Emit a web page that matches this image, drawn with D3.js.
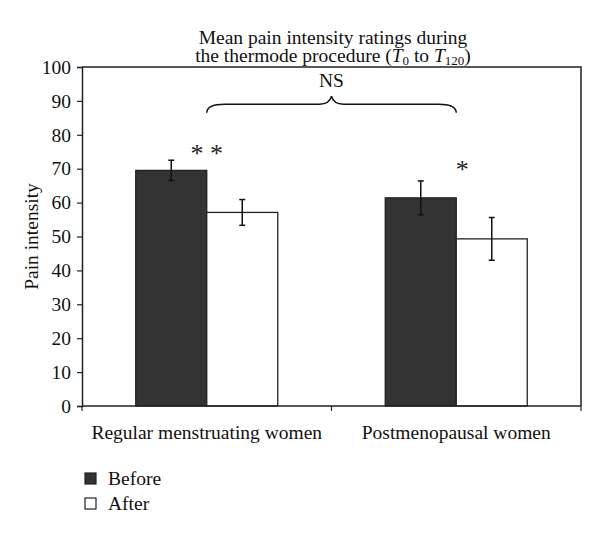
<!DOCTYPE html>
<html lang="en">
<head>
<meta charset="UTF-8">
<title>Mean pain intensity ratings</title>
<script src="https://d3js.org/d3.v7.min.js"></script>
<style>
  body { margin: 0; background: #fff; }
  svg { font-family: "Liberation Serif", "DejaVu Serif", serif; }
</style>
</head>
<body>
<div id="container"></div>
<script>
// data
const groups = ["Regular menstruating women", "Postmenopausal women"];
const series = ["Before", "After"];
const before = [69.5, 61.4];
const after = [57.1, 49.3];
const beforeErr = [3.0, 5.0];
const afterErr = [3.8, 6.3];
const yTicks = [0, 10, 20, 30, 40, 50, 60, 70, 80, 90, 100];
const stars = ["* *", "*"];

const width = 600, height = 536;
const margin = { top: 67, right: 19, bottom: 130, left: 82 };
const colors = { Before: "#333333", After: "#ffffff" };
const fs = 19.5;

const svg = d3.select("#container").append("svg")
  .attr("width", width)
  .attr("height", height);

const x0 = d3.scaleBand()
  .domain(groups)
  .range([margin.left, width - margin.right])
  .paddingInner(0)
  .paddingOuter(0);

const x1 = d3.scaleBand()
  .domain(series)
  .range([0, x0.bandwidth()])
  .paddingInner(0)
  .paddingOuter(0.757);

const y = d3.scaleLinear()
  .domain([0, 100])
  .range([height - margin.bottom, margin.top]);

const rows = groups.map((g, i) => ({
  group: g,
  values: [
    { key: "Before", value: before[i], err: beforeErr[i] },
    { key: "After", value: after[i], err: afterErr[i] }
  ]
}));

// title
const title = svg.append("text")
  .attr("x", 333)
  .attr("text-anchor", "middle")
  .attr("font-size", fs)
  .attr("fill", "#111");
title.append("tspan").attr("x", 333).attr("y", 44).text("Mean pain intensity ratings during");
const t2 = title.append("tspan").attr("x", 333).attr("y", 62);
t2.append("tspan").text("the thermode procedure (");
t2.append("tspan").attr("font-style", "italic").text("T");
t2.append("tspan").attr("font-size", 13).attr("dy", 2.5).text("0");
t2.append("tspan").attr("dy", -2.5).text(" to ");
t2.append("tspan").attr("font-style", "italic").text("T");
t2.append("tspan").attr("font-size", 13).attr("dy", 2.5).text("120");
t2.append("tspan").attr("dy", -2.5).text(")");

// y axis
const yAxis = svg.append("g")
  .attr("transform", `translate(${margin.left},0)`)
  .call(d3.axisLeft(y).tickValues(yTicks).tickSize(5).tickPadding(6));
yAxis.select(".domain").attr("stroke", "#222").attr("stroke-width", 1.5);
yAxis.selectAll(".tick line").attr("stroke", "#222").attr("stroke-width", 1.2);
yAxis.selectAll("text").attr("font-size", fs).attr("fill", "#111")
  .attr("font-family", "Liberation Serif, serif");

// top and right frame
svg.append("path")
  .attr("d", `M${margin.left},${y(100)}H${width - margin.right}V${y(0)}`)
  .attr("fill", "none")
  .attr("stroke", "#222")
  .attr("stroke-width", 1.5);

// bars
const g = svg.selectAll(".grp").data(rows).enter().append("g")
  .attr("class", "grp")
  .attr("transform", d => `translate(${x0(d.group)},0)`);

g.selectAll("rect").data(d => d.values).enter().append("rect")
  .attr("x", d => x1(d.key))
  .attr("y", d => y(d.value))
  .attr("width", x1.bandwidth())
  .attr("height", d => y(0) - y(d.value))
  .attr("fill", d => colors[d.key])
  .attr("stroke", "#222")
  .attr("stroke-width", 1.3);

// error bars
const eb = g.selectAll(".err").data(d => d.values).enter().append("g")
  .attr("class", "err")
  .attr("stroke", "#111")
  .attr("stroke-width", 1.5);
eb.append("line")
  .attr("x1", d => x1(d.key) + x1.bandwidth() / 2)
  .attr("x2", d => x1(d.key) + x1.bandwidth() / 2)
  .attr("y1", d => y(d.value + d.err))
  .attr("y2", d => y(d.value - d.err));
eb.append("line")
  .attr("x1", d => x1(d.key) + x1.bandwidth() / 2 - 3)
  .attr("x2", d => x1(d.key) + x1.bandwidth() / 2 + 3)
  .attr("y1", d => y(d.value + d.err))
  .attr("y2", d => y(d.value + d.err));
eb.append("line")
  .attr("x1", d => x1(d.key) + x1.bandwidth() / 2 - 3)
  .attr("x2", d => x1(d.key) + x1.bandwidth() / 2 + 3)
  .attr("y1", d => y(d.value - d.err))
  .attr("y2", d => y(d.value - d.err));

// x axis (boundary ticks)
const xAxis = svg.append("g")
  .attr("transform", `translate(0,${y(0)})`);
xAxis.append("line")
  .attr("x1", margin.left).attr("x2", width - margin.right)
  .attr("stroke", "#222").attr("stroke-width", 1.5);
const bounds = [margin.left].concat(groups.map(d => x0(d) + x0.bandwidth()));
xAxis.selectAll(".bt").data(bounds).enter().append("line")
  .attr("x1", d => d).attr("x2", d => d)
  .attr("y1", 0).attr("y2", 5)
  .attr("stroke", "#222").attr("stroke-width", 1.2);
xAxis.selectAll(".cl").data(groups).enter().append("text")
  .attr("x", d => x0(d) + x0.bandwidth() / 2)
  .attr("y", 33)
  .attr("text-anchor", "middle")
  .attr("font-size", fs)
  .attr("fill", "#111")
  .text(d => d);

// y label
svg.append("text")
  .attr("transform", `translate(38,${y(50)}) rotate(-90)`)
  .attr("text-anchor", "middle")
  .attr("font-size", fs)
  .attr("fill", "#111")
  .text("Pain intensity");

// significance stars
rows.forEach((r, i) => {
  const cx = i === 0
    ? x0(r.group) + x1("After")
    : x0(r.group) + x1("After") + 6;
  svg.append("text")
    .attr("x", cx)
    .attr("y", i === 0 ? 162 : 178)
    .attr("text-anchor", "middle")
    .attr("font-size", 26)
    .attr("fill", "#222")
    .text(stars[i]);
});

// NS brace between the two groups
const bx1 = x0(groups[0]) + x1("After");
const bx2 = x0(groups[1]) + x1("After");
const bm = (bx1 + bx2) / 2;
const yTop = y(91.4), yBot = y(86.5);
const r = 10;
svg.append("path")
  .attr("d", `M${bx1},${yBot} Q${bx1},${yTop + r - 2} ${bx1 + 18},${yTop + r - 2}`
    + ` L${bm - 12},${yTop + r - 2} Q${bm - 2},${yTop + r - 2} ${bm},${yTop}`
    + ` Q${bm + 2},${yTop + r - 2} ${bm + 12},${yTop + r - 2}`
    + ` L${bx2 - 18},${yTop + r - 2} Q${bx2},${yTop + r - 2} ${bx2},${yBot}`)
  .attr("fill", "none")
  .attr("stroke", "#111")
  .attr("stroke-width", 1.5);
svg.append("text")
  .attr("x", bm)
  .attr("y", y(94.0))
  .attr("text-anchor", "middle")
  .attr("font-size", fs)
  .attr("fill", "#111")
  .text("NS");

// legend
const leg = svg.selectAll(".leg").data(series).enter().append("g")
  .attr("class", "leg")
  .attr("transform", (d, i) => `translate(85,${473 + i * 25})`);
leg.append("rect")
  .attr("width", 11).attr("height", 11)
  .attr("fill", d => colors[d])
  .attr("stroke", "#222")
  .attr("stroke-width", 1.2);
leg.append("text")
  .attr("x", 23)
  .attr("y", 12)
  .attr("font-size", fs)
  .attr("fill", "#111")
  .text(d => d);
</script>
</body>
</html>
